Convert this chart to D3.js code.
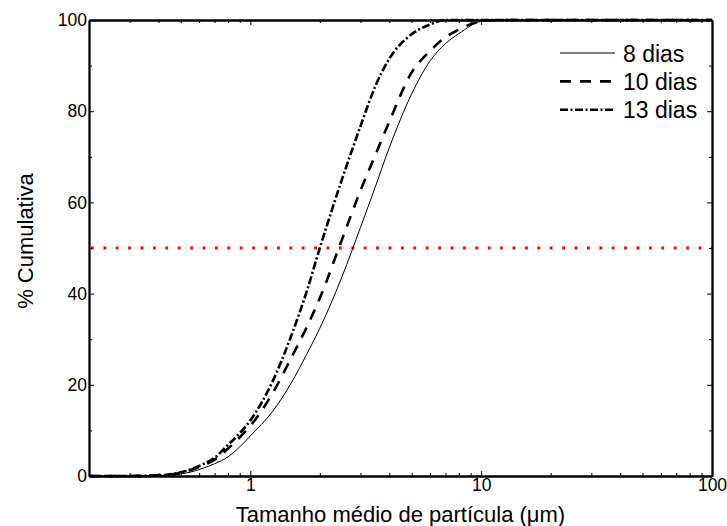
<!DOCTYPE html>
<html>
<head>
<meta charset="utf-8">
<script src="https://cdn.jsdelivr.net/npm/d3@7"></script>
<style>
  body { margin: 0; background: #fff; }
  text { font-family: "Liberation Sans", Arial, sans-serif; fill: #000; }
</style>
</head>
<body>
<svg id="canvas" width="727" height="526"></svg>
<script>
// particle size (um) and cumulative % for each sample
const sizes = [0.2, 0.3, 0.4, 0.5, 0.6, 0.7, 0.8, 0.9, 1, 1.25, 1.5, 1.75, 2, 2.5, 3, 3.5, 4, 5, 6, 7, 8, 10, 12, 15, 100];
const pct8  = [0, 0, 0.1,  0.45, 1.4, 2.7, 4.2, 6.4, 8.8,  14.2, 20.3, 26.6, 32.4, 43.8, 54.5, 63.8, 72.0, 83.8, 91.0, 94.8, 97.0, 99.7, 100, 100, 100];
const pct10 = [0, 0, 0.15, 0.7,  2.0, 3.6, 6.0, 8.5, 11.0, 18.2, 25.8, 32.5, 39.0, 52.0, 62.6, 70.7, 77.7, 88.5, 93.2, 96.2, 97.9, 99.7, 100, 100, 100];
const pct13 = [0, 0, 0.15, 0.8,  2.2, 4.0, 6.8, 9.4, 12.2, 20.8, 30.6, 40.3, 50,   65.2, 76.7, 85.8, 91.5, 96.9, 99.0, 100,  100,  100,  100, 100, 100];

const seriesNames = ["8 dias", "10 dias", "13 dias"];
const xMajor = [1, 10, 100];
const xMinor = [0.3, 0.4, 0.5, 0.6, 0.7, 0.8, 0.9, 2, 3, 4, 5, 6, 7, 8, 9, 20, 30, 40, 50, 60, 70, 80, 90];
const yMajor = [0, 20, 40, 60, 80, 100];
const yMinor = [10, 30, 50, 70, 90];
const refLine = 50;

const svg = d3.select("#canvas");
const plotLeft = 89, plotRight = 712, plotTop = 20, plotBottom = 476;

const x = d3.scaleLog().domain([0.2, 100]).range([plotLeft, plotRight]);
const y = d3.scaleLinear().domain([0, 100]).range([plotBottom, plotTop]);

const series = [
    { name: seriesNames[0], vals: pct8, dash: null, w: 1 },
    { name: seriesNames[1], vals: pct10, dash: "11,9", w: 2.6 },
    { name: seriesNames[2], vals: pct13, dash: "8,2.5,2,2.5", w: 2.6 }
];

// red 50% reference line
svg.append("line")
    .attr("x1", plotLeft + 2)
    .attr("x2", plotRight)
    .attr("y1", y(refLine))
    .attr("y2", y(refLine))
    .attr("stroke", "#ff0000")
    .attr("stroke-width", 3)
    .attr("stroke-dasharray", "2.8,9.6");

const line = d3.line()
    .x((d, i) => x(sizes[i]))
    .y(d => y(d))
    .curve(d3.curveMonotoneX);

series.forEach(s => {
    svg.append("path")
        .attr("d", line(s.vals))
        .attr("fill", "none")
        .attr("stroke", "#000")
        .attr("stroke-width", s.w)
        .attr("stroke-dasharray", s.dash);
});

// axes (ticks pointing inward)
function styleAxis(g) {
    g.selectAll("path").attr("stroke", "#000").attr("stroke-width", 1.8);
    g.selectAll("line").attr("stroke", "#000").attr("stroke-width", 1);
    g.selectAll("text").style("font-size", "17.5px").attr("fill", "#000");
}

svg.append("g")
    .attr("transform", `translate(0,${plotBottom})`)
    .call(d3.axisBottom(x).tickValues(xMinor).tickFormat("").tickSize(-3).tickSizeOuter(0))
    .call(styleAxis);
svg.append("g")
    .attr("transform", `translate(0,${plotBottom})`)
    .call(d3.axisBottom(x).tickValues(xMajor).tickFormat(d3.format("d")).tickSize(-5).tickSizeOuter(0).tickPadding(3))
    .call(styleAxis);
svg.append("g")
    .attr("transform", `translate(0,${plotTop})`)
    .call(d3.axisTop(x).tickValues(xMinor).tickFormat("").tickSize(-3).tickSizeOuter(0))
    .call(styleAxis);
svg.append("g")
    .attr("transform", `translate(0,${plotTop})`)
    .call(d3.axisTop(x).tickValues(xMajor).tickFormat("").tickSize(-5).tickSizeOuter(0))
    .call(styleAxis);

svg.append("g")
    .attr("transform", `translate(${plotLeft},0)`)
    .call(d3.axisLeft(y).tickValues(yMinor).tickFormat("").tickSize(-3).tickSizeOuter(0))
    .call(styleAxis);
svg.append("g")
    .attr("transform", `translate(${plotLeft},0)`)
    .call(d3.axisLeft(y).tickValues(yMajor).tickFormat(d3.format("d")).tickSize(-5).tickSizeOuter(0).tickPadding(2))
    .call(styleAxis);
svg.append("g")
    .attr("transform", `translate(${plotRight},0)`)
    .call(d3.axisRight(y).tickValues(yMinor).tickFormat("").tickSize(-3).tickSizeOuter(0))
    .call(styleAxis);
svg.append("g")
    .attr("transform", `translate(${plotRight},0)`)
    .call(d3.axisRight(y).tickValues(yMajor).tickFormat("").tickSize(-5).tickSizeOuter(0))
    .call(styleAxis);

// axis titles
svg.append("text")
    .attr("x", (plotLeft + plotRight) / 2)
    .attr("y", 522)
    .attr("text-anchor", "middle")
    .style("font-size", "22px")
    .text("Tamanho médio de partícula (μm)");

svg.append("text")
    .attr("transform", "translate(32.5,241) rotate(-90)")
    .attr("text-anchor", "middle")
    .style("font-size", "22px")
    .text("% Cumulativa");

// legend
const legend = svg.append("g");
series.forEach((s, i) => {
    const by = 61.5 + i * 28.4;
    legend.append("line")
        .attr("x1", 560)
        .attr("x2", 615)
        .attr("y1", by - 8.5)
        .attr("y2", by - 8.5)
        .attr("stroke", "#000")
        .attr("stroke-width", s.w)
        .attr("stroke-dasharray", s.dash);
    legend.append("text")
        .attr("x", 623)
        .attr("y", by)
        .style("font-size", "23px")
        .text(s.name);
});
</script>
</body>
</html>
